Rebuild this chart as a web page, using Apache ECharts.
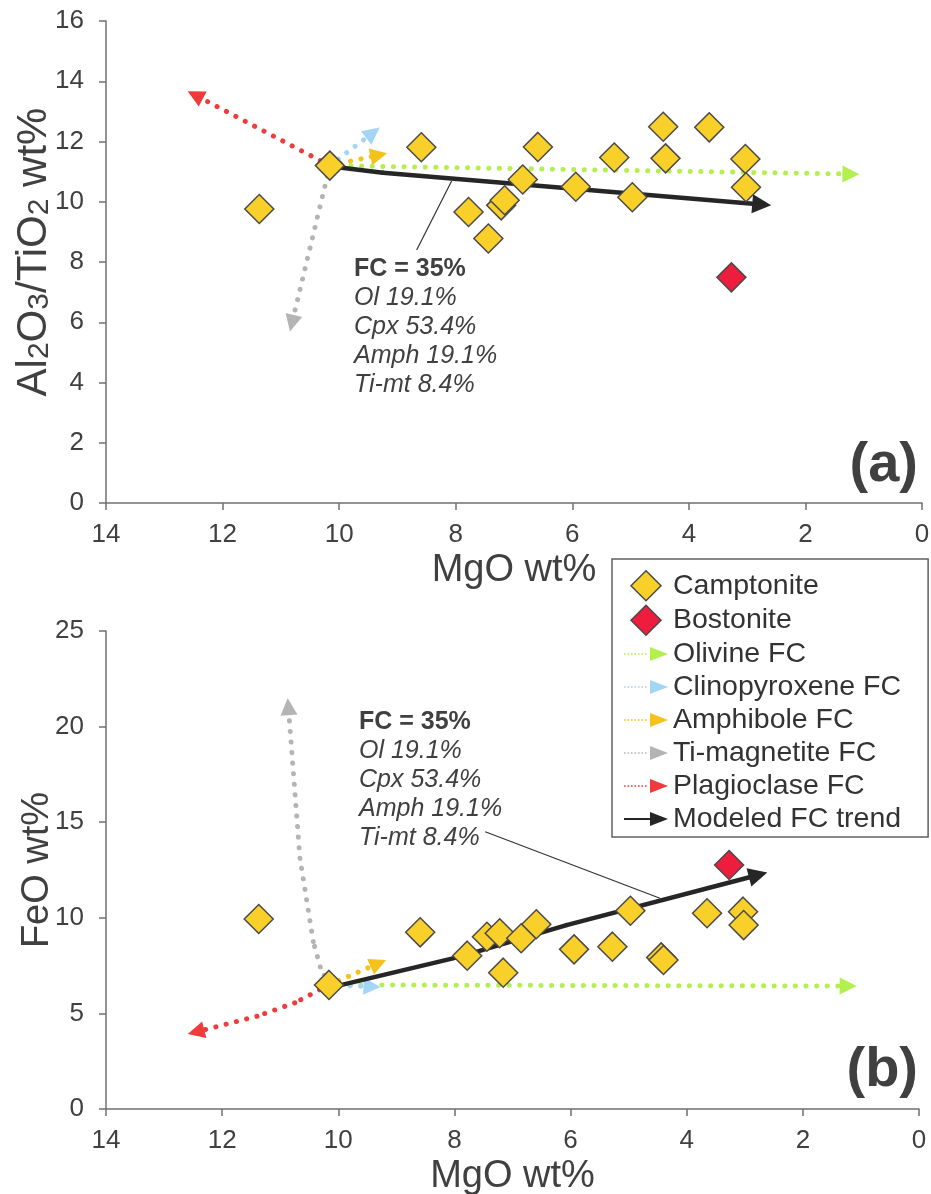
<!DOCTYPE html>
<html>
<head>
<meta charset="utf-8">
<script src="https://cdn.jsdelivr.net/npm/echarts@6/dist/echarts.min.js"></script>
<style>
  html, body { margin: 0; padding: 0; background: #ffffff; }
  #chart { width: 931px; height: 1194px; }
</style>
</head>
<body>
<div id="chart"></div>
<script>
// ---- Samples: MgO (wt%) shared by both panels ----
const mgoCamptonite = [11.37, 10.16, 8.59, 7.78, 7.44, 7.22, 7.16, 6.85, 6.59, 5.94, 5.28, 4.97, 4.44, 4.40, 3.65, 3.03, 3.02];
const alTiCamptonite = [9.76, 11.20, 11.81, 9.66, 8.78, 9.88, 10.05, 10.74, 11.82, 10.50, 11.47, 10.15, 12.49, 11.44, 12.47, 11.42, 10.48];
const feoCamptonite = [9.94, 6.49, 9.24, 8.02, 9.01, 9.19, 7.13, 8.93, 9.66, 8.35, 8.49, 10.37, 7.93, 7.79, 10.24, 10.32, 9.62];

const mgoBostonite = [3.27];
const alTiBostonite = [7.49];
const feoBostonite = [12.76];

// ---- Fractional crystallisation vectors, [MgO, y] ----
// panel (a): Al2O3/TiO2
const olivineA = [[10.16, 11.20], [1.22, 10.92]];
const cpxA = [[10.16, 11.20], [9.42, 12.29]];
const amphA = [[10.16, 11.20], [9.32, 11.55]];
const timtA = [[10.16, 11.20], [10.81, 5.97]];
const plagA = [[10.16, 11.20], [12.47, 13.54]];
const modelA = [[9.99, 11.14], [9.25, 10.96], [2.75, 9.91]];
const leaderA = [[8.67, 8.40], [8.07, 10.69]];
// panel (b): FeO
const olivineB = [[10.16, 6.49], [1.22, 6.43]];
const cpxB = [[10.16, 6.49], [9.42, 6.40]];
const amphB = [[10.16, 6.49], [9.31, 7.62]];
const timtB = [[10.16, 6.49], [10.31, 7.43], [10.43, 8.75], [10.66, 13.11], [10.86, 21.04]];
const plagB = [[10.16, 6.49], [10.75, 5.55], [11.40, 4.85], [12.45, 4.03]];
const modelB = [[9.94, 6.49], [7.90, 7.97], [6.07, 9.62], [2.77, 12.24]];
const leaderB = [[7.47, 14.50], [4.46, 11.02]];

// ---- Axis ranges ----
const mgoAxis = { min: 0, max: 14, interval: 2 };
const alTiAxis = { min: 0, max: 16, interval: 2 };
const feoAxis = { min: 0, max: 25, interval: 5 };

const legendNames = ['Camptonite', 'Bostonite', 'Olivine FC', 'Clinopyroxene FC', 'Amphibole FC', 'Ti-magnetite FC', 'Plagioclase FC', 'Modeled FC trend'];
const fcLabelLines = ['FC = 35%', 'Ol 19.1%', 'Cpx 53.4%', 'Amph 19.1%', 'Ti-mt 8.4%'];

const FONT = 'Liberation Sans';
const TEXT = '#404040';
const AXIS = '#707070';
const C = {
  camp: '#F9D02A', bost: '#EE1D3E', edge: '#4a4a4a',
  ol: '#B2F04E', cpx: '#A3D5F7', amph: '#F4C21A', timt: '#B4B4B4', plag: '#EF3B3B', model: '#262626'
};

function xAxisFor(gridIndex) {
  return {
    type: 'value', gridIndex, inverse: true,
    min: mgoAxis.min, max: mgoAxis.max, interval: mgoAxis.interval,
    name: 'MgO wt%', nameLocation: 'middle', nameGap: 49, nameMoveOverlap: false,
    nameTextStyle: { fontFamily: FONT, fontSize: 38, color: TEXT },
    axisLine: { show: true, onZero: false, lineStyle: { color: AXIS, width: 1.5 } },
    axisTick: { show: true, inside: false, length: 7, lineStyle: { color: AXIS, width: 1.5 } },
    axisLabel: { show: true, margin: 19, fontFamily: FONT, fontSize: 26, color: TEXT },
    splitLine: { show: false }
  };
}
function yAxisFor(gridIndex, range, name, gap, nameStyle) {
  return {
    type: 'value', gridIndex,
    min: range.min, max: range.max, interval: range.interval,
    name, nameLocation: 'middle', nameGap: gap, nameMoveOverlap: false,
    nameTextStyle: Object.assign({ fontFamily: FONT, fontSize: 38, color: TEXT }, nameStyle || {}),
    axisLine: { show: true, onZero: false, lineStyle: { color: AXIS, width: 1.5 } },
    axisTick: { show: true, inside: false, length: 7, lineStyle: { color: AXIS, width: 1.5 } },
    axisLabel: { show: true, margin: 22, fontFamily: FONT, fontSize: 26, color: TEXT },
    splitLine: { show: false }
  };
}

// A vector is drawn as straight segments; only the last carries the arrowhead.
function vector(name, path, idx, color, width, dotted, head, z) {
  const segs = [];
  for (let i = 0; i < path.length - 1; i++) {
    const last = i === path.length - 2;
    segs.push({ coords: [path[i], path[i + 1]], symbol: ['none', last ? 'triangle' : 'none'], symbolSize: head });
  }
  return {
    type: 'lines', name, coordinateSystem: 'cartesian2d', xAxisIndex: idx, yAxisIndex: idx,
    silent: true, z: z || 2, symbolSize: head,
    lineStyle: { color, width, opacity: 1, type: dotted ? [0.1, 10.5] : 'solid', cap: 'round', curveness: 0 },
    data: segs
  };
}
function leader(path, idx) {
  return {
    type: 'lines', name: 'leader', coordinateSystem: 'cartesian2d', xAxisIndex: idx, yAxisIndex: idx,
    silent: true, z: 1, symbol: ['none', 'none'],
    lineStyle: { color: '#333333', width: 1.2, opacity: 1, type: 'solid' },
    data: [{ coords: path }]
  };
}
function samples(name, xs, ys, idx, fill) {
  return {
    type: 'scatter', name, xAxisIndex: idx, yAxisIndex: idx, z: 5, silent: true,
    symbol: 'diamond', symbolSize: 29,
    itemStyle: { color: fill, borderColor: C.edge, borderWidth: 1.5, opacity: 1 },
    data: xs.map((x, i) => [x, ys[i]])
  };
}

const series = [];
[[olivineA, olivineB, 'Olivine FC', C.ol], [cpxA, cpxB, 'Clinopyroxene FC', C.cpx], [amphA, amphB, 'Amphibole FC', C.amph],
 [timtA, timtB, 'Ti-magnetite FC', C.timt], [plagA, plagB, 'Plagioclase FC', C.plag]].forEach(([a, b, n, col]) => {
  series.push(vector(n, a, 0, col, 5, true, 17));
  series.push(vector(n, b, 1, col, 5, true, 17));
});
series.push(vector('Modeled FC trend', modelA, 0, C.model, 4.5, false, 19, 3));
series.push(vector('Modeled FC trend', modelB, 1, C.model, 4.5, false, 19, 3));
series.push(leader(leaderA, 0));
series.push(leader(leaderB, 1));
series.push(samples('Camptonite', mgoCamptonite, alTiCamptonite, 0, C.camp));
series.push(samples('Camptonite', mgoCamptonite, feoCamptonite, 1, C.camp));
series.push(samples('Bostonite', mgoBostonite, alTiBostonite, 0, C.bost));
series.push(samples('Bostonite', mgoBostonite, feoBostonite, 1, C.bost));

const DIAMOND = 'path://M15,0L30,15L15,30L0,15Z';
let dots = '';
for (let x = 0; x <= 22; x += 3.5) dots += 'M' + x + ',6.2h1.6v1.6h-1.6Z';
const DOTTED_ARROW = 'path://' + dots + 'M26,0L44,7L26,14Z';
const SOLID_ARROW = 'path://M0,6h27v2h-27ZM26,0L44,7L26,14Z';
const legendColors = [C.camp, C.bost, C.ol, C.cpx, C.amph, C.timt, C.plag, C.model];

const legendData = legendNames.map((n, i) => ({
  name: n,
  icon: i < 2 ? DIAMOND : (i === 7 ? SOLID_ARROW : DOTTED_ARROW),
  itemStyle: i < 2 ? { color: legendColors[i], borderColor: C.edge, borderWidth: 1.5 }
                   : { color: legendColors[i], borderWidth: 0 }
}));

function fcBlock(left, top) {
  const body = fcLabelLines.map((t, i) => (i === 0 ? '{b|' : '{i|') + t + '}').join('\n');
  return {
    type: 'text', left, top, z: 10, silent: true,
    style: {
      text: body,
      rich: {
        b: { fontFamily: FONT, fontSize: 25, fontWeight: 'bold', fill: TEXT, lineHeight: 29 },
        i: { fontFamily: FONT, fontSize: 25, fontStyle: 'italic', fill: TEXT, lineHeight: 29 }
      }
    }
  };
}

const option = {
  animation: false,
  backgroundColor: '#ffffff',
  textStyle: { fontFamily: FONT },
  grid: [
    { left: 106, top: 21, width: 816, height: 482, containLabel: false, outerBoundsMode: 'none' },
    { left: 106, top: 631, width: 813, height: 478, containLabel: false, outerBoundsMode: 'none' }
  ],
  xAxis: [xAxisFor(0), xAxisFor(1)],
  yAxis: [
    yAxisFor(0, alTiAxis, 'Al{s|2}O{s|3}/TiO{s|2} wt%', 51, {
      fontSize: 42, padding: [0, 0, 0, 20],
      rich: { s: { fontFamily: FONT, fontSize: 30, color: TEXT, verticalAlign: 'bottom' } }
    }),
    yAxisFor(1, feoAxis, 'FeO wt%', 49)
  ],
  legend: {
    data: legendData, orient: 'vertical', left: 612, top: 559,
    itemWidth: 44, itemHeight: 30, itemGap: 3, symbolKeepAspect: true,
    padding: [11, 27, 3, 12],
    borderColor: '#606060', borderWidth: 1.5, backgroundColor: '#ffffff',
    selectedMode: false, z: 20,
    textStyle: { fontFamily: FONT, fontSize: 28.5, lineHeight: 30, color: '#333333' }
  },
  graphic: [
    fcBlock(354, 257),
    fcBlock(359, 710),
    { type: 'text', x: 918, y: 466, z: 10, silent: true, style: { text: '(a)', align: 'right', verticalAlign: 'middle', fontFamily: FONT, fontSize: 56, fontWeight: 'bold', fill: TEXT } },
    { type: 'text', x: 918, y: 1071, z: 10, silent: true, style: { text: '(b)', align: 'right', verticalAlign: 'middle', fontFamily: FONT, fontSize: 56, fontWeight: 'bold', fill: TEXT } }
  ],
  series
};

const chart = echarts.init(document.getElementById('chart'), null, { renderer: 'canvas' });
chart.setOption(option);
</script>
</body>
</html>
